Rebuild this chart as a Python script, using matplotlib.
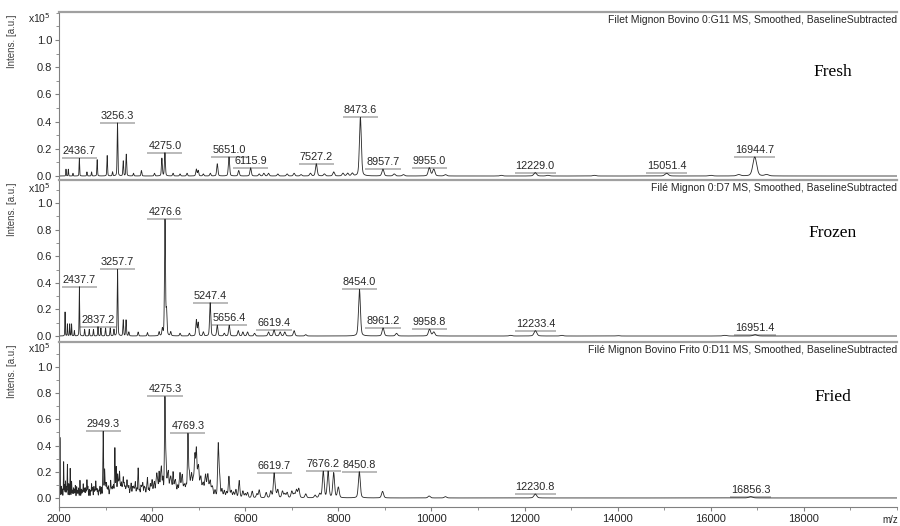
import numpy as np
import matplotlib
matplotlib.use("Agg")
import matplotlib.pyplot as plt
from matplotlib.ticker import MultipleLocator, FormatStrFormatter

plt.rcParams['font.family'] = ['Liberation Sans', 'DejaVu Sans']

# ---------------- data ----------------
panel_names = ["Fresh", "Frozen", "Fried"]
panel_titles = [
    "Filet Mignon Bovino 0:G11 MS, Smoothed, BaselineSubtracted",
    "Filé Mignon 0:D7 MS, Smoothed, BaselineSubtracted",
    "Filé Mignon Bovino Frito 0:D11 MS, Smoothed, BaselineSubtracted",
]

# labelled peaks: m/z and intensity (x10^5)
fresh_label_mz = [2436.7, 3256.3, 4275.0, 5651.0, 6115.9, 7527.2, 8473.6, 8957.7, 9955.0, 12229.0, 15051.4, 16944.7]
fresh_label_h = [0.13, 0.39, 0.17, 0.14, 0.06, 0.09, 0.43, 0.05, 0.06, 0.025, 0.02, 0.14]
fresh_other_mz = [2150, 2200, 2300, 2600, 2700, 2820, 3035, 3150, 3380, 3445, 3600, 3770, 4050, 4210,
                  4450, 4600, 4750, 4950, 4990, 5100, 5250, 5400, 5860, 6300, 6400, 6500, 6700, 6900,
                  7050, 7200, 7400, 7700, 7900, 8100, 8200, 8300, 9200, 9400, 10050, 10300, 11500,
                  12500, 13500, 16000, 16600, 17200]
fresh_other_h = [0.05, 0.05, 0.02, 0.03, 0.03, 0.12, 0.15, 0.03, 0.11, 0.16, 0.02, 0.04, 0.02, 0.13,
                 0.02, 0.015, 0.02, 0.05, 0.04, 0.015, 0.02, 0.09, 0.04, 0.015, 0.02, 0.02, 0.015, 0.015,
                 0.02, 0.01, 0.02, 0.015, 0.03, 0.02, 0.02, 0.02, 0.015, 0.01, 0.05, 0.01, 0.005,
                 0.005, 0.005, 0.005, 0.01, 0.01]

frozen_label_mz = [2437.7, 2837.2, 3257.7, 4276.6, 5247.4, 5656.4, 6619.4, 8454.0, 8961.2, 9958.8, 12233.4, 16951.4]
frozen_label_h = [0.37, 0.07, 0.50, 0.87, 0.25, 0.08, 0.045, 0.35, 0.06, 0.05, 0.04, 0.01]
frozen_other_mz = [2130, 2180, 2230, 2270, 2330, 2550, 2650, 2740, 2900, 3000, 3100, 3180, 3380, 3440,
                   3500, 3700, 3900, 4150, 4220, 4310, 4400, 4600, 4800, 4950, 4990, 5100, 5400, 5550,
                   5850, 5950, 6050, 6200, 6500, 6750, 6850, 7050, 7300, 9250, 10050, 11700, 12800,
                   14000, 16300]
frozen_other_h = [0.18, 0.09, 0.09, 0.09, 0.04, 0.05, 0.05, 0.05, 0.06, 0.06, 0.06, 0.05, 0.12, 0.12,
                  0.03, 0.03, 0.025, 0.03, 0.05, 0.18, 0.03, 0.02, 0.02, 0.12, 0.10, 0.03, 0.08, 0.02,
                  0.04, 0.03, 0.03, 0.02, 0.03, 0.03, 0.03, 0.04, 0.01, 0.02, 0.03, 0.005, 0.005,
                  0.003, 0.005]

fried_label_mz = [2949.3, 4275.3, 4769.3, 6619.7, 7676.2, 8450.8, 12230.8, 16856.3]
fried_label_h = [0.50, 0.74, 0.47, 0.18, 0.20, 0.20, 0.03, 0.01]
fried_other_mz = [2020, 2050, 2100, 2140, 2180, 2210, 2240, 2270, 2310, 2350, 2400, 2450, 2480, 2520,
                  2560, 2600, 2650, 2700, 2750, 2790, 2830, 2880, 2980, 3020, 3060, 3110, 3150, 3200,
                  3230, 3260, 3300, 3340, 3380, 3420, 3460, 3500, 3550, 3600, 3640, 3700, 3760, 3800,
                  3850, 3900, 3960, 4000, 4050, 4100, 4150, 4200, 4300, 4350, 4400, 4450, 4500, 4550,
                  4600, 4650, 4700, 4800, 4850, 4880, 4920, 4950, 5000, 5050, 5100, 5150, 5200, 5250,
                  5300, 5420, 5450, 5500, 5550, 5650, 5700, 5800, 5870, 5950, 6050, 6150, 6300, 6450,
                  6550, 6700, 6800, 6900, 7000, 7100, 7150, 7300, 7500, 7600, 7780, 7900, 8000, 8950,
                  9950, 10300,
                  2070, 2120, 2160, 2290, 2330, 2380, 2420, 2500, 2540, 2580, 2620, 2680, 2720, 2770,
                  2810, 2860, 2910, 3000, 3040, 3090, 3130, 3170, 3280, 3320, 3360, 3400, 3440, 3480,
                  3530, 3580, 3620, 3670, 3730, 3780, 3830, 3880, 3930, 3980, 4030, 4080, 4120, 4180,
                  4230, 4330, 4380, 4420, 4480, 4520, 4580, 4630, 4680, 4730, 4830, 4900, 4980, 5030,
                  5080, 5130, 5180, 5230, 5280, 5350, 5600, 5750, 6000, 6250, 6650, 6850, 7050]
fried_other_h = [0.46, 0.08, 0.27, 0.12, 0.25, 0.10, 0.22, 0.12, 0.07, 0.09, 0.05, 0.13, 0.06, 0.10,
                 0.07, 0.13, 0.06, 0.10, 0.08, 0.12, 0.06, 0.08, 0.20, 0.10, 0.08, 0.12, 0.07, 0.37,
                 0.22, 0.16, 0.18, 0.10, 0.14, 0.07, 0.12, 0.08, 0.10, 0.07, 0.11, 0.22, 0.08, 0.10,
                 0.06, 0.14, 0.09, 0.12, 0.10, 0.15, 0.18, 0.20, 0.22, 0.16, 0.12, 0.18, 0.10, 0.08,
                 0.16, 0.14, 0.07, 0.16, 0.14, 0.10, 0.28, 0.34, 0.18, 0.12, 0.08, 0.14, 0.14, 0.10,
                 0.06, 0.40, 0.15, 0.06, 0.05, 0.16, 0.05, 0.06, 0.13, 0.05, 0.04, 0.05, 0.06, 0.04,
                 0.05, 0.06, 0.05, 0.04, 0.05, 0.06, 0.07, 0.03, 0.02, 0.03, 0.20, 0.19, 0.08, 0.05,
                 0.015, 0.01,
                 0.06, 0.09, 0.07, 0.05, 0.06, 0.08, 0.07, 0.05, 0.06, 0.05, 0.08, 0.05, 0.07, 0.05,
                 0.06, 0.05, 0.07, 0.09, 0.06, 0.05, 0.06, 0.08, 0.10, 0.07, 0.06, 0.09, 0.05, 0.06,
                 0.05, 0.07, 0.05, 0.06, 0.05, 0.06, 0.07, 0.05, 0.06, 0.05, 0.07, 0.08, 0.10, 0.12,
                 0.13, 0.12, 0.09, 0.07, 0.08, 0.05, 0.07, 0.09, 0.06, 0.08, 0.09, 0.08, 0.14, 0.08,
                 0.06, 0.07, 0.08, 0.06, 0.05, 0.05, 0.04, 0.04, 0.03, 0.03, 0.04, 0.03, 0.03]

label_mz = [fresh_label_mz, frozen_label_mz, fried_label_mz]
label_h = [fresh_label_h, frozen_label_h, fried_label_h]
other_mz = [fresh_other_mz, frozen_other_mz, fried_other_mz]
other_h = [fresh_other_h, frozen_other_h, fried_other_h]

x_ticks = [2000, 4000, 6000, 8000, 10000, 12000, 14000, 16000, 18000]
y_ticks = [0.0, 0.2, 0.4, 0.6, 0.8, 1.0]

# ---------------- figure ----------------
W, H = 900, 526
fig = plt.figure(figsize=(9, 5.26), dpi=100)

# (top px, bottom px, ylim)
layout = [(12, 179, (-0.022, 1.206)),
          (180, 340, (-0.030, 1.173)),
          (342, 507, (-0.069, 1.191))]
left_px, right_px = 59, 897

mz = np.arange(2000.0, 20000.0, 1.0)


def spectrum(centers, heights):
    # peak shape: pseudo-Voigt (mostly Gaussian core, Lorentzian skirt)
    y = np.zeros_like(mz)
    for c, h in zip(centers, heights):
        s = c / 420.0
        w = c / 330.0
        d = mz - c
        y += h * (0.7 * np.exp(-0.5 * (d / s) ** 2) + 0.3 / (1.0 + (d / w) ** 2))
    return y


axes = []
labels_all = []
for i in range(3):
    top, bot, yl = layout[i]
    ax = fig.add_axes([left_px / W, 1 - bot / H, (right_px - left_px) / W, (bot - top) / H])
    axes.append(ax)
    centers = list(label_mz[i]) + list(other_mz[i])
    heights = list(label_h[i]) + list(other_h[i])
    y = spectrum(centers, heights)
    ax.plot(mz, y, color='#262626', lw=0.6)
    ax.set_xlim(2000, 20000)
    ax.set_ylim(*yl)

    ax.spines['right'].set_visible(False)
    ax.spines['top'].set_color('#a0a0a0')
    ax.spines['top'].set_linewidth(1.6)
    ax.spines['left'].set_color('#808080')
    ax.spines['left'].set_linewidth(0.8)
    if i < 2:
        ax.spines['bottom'].set_visible(False)
        ax.tick_params(axis='x', which='both', bottom=False, labelbottom=False)
    else:
        ax.spines['bottom'].set_color('#808080')
        ax.spines['bottom'].set_linewidth(0.8)
        ax.set_xticks(x_ticks)
        ax.xaxis.set_minor_locator(MultipleLocator(1000))
        ax.tick_params(axis='x', which='major', labelsize=8, colors='#808080',
                       labelcolor='#262626', length=3, direction='out', pad=2)
        ax.tick_params(axis='x', which='minor', colors='#808080', length=2, direction='out')

    ax.set_yticks(y_ticks)
    ax.yaxis.set_major_formatter(FormatStrFormatter('%.1f'))
    ax.yaxis.set_minor_locator(MultipleLocator(0.1))
    ax.tick_params(axis='y', which='major', labelsize=8, colors='#808080',
                   labelcolor='#262626', length=3, direction='out', pad=2)
    ax.tick_params(axis='y', which='minor', colors='#808080', length=2, direction='out')

    # panel title at top right
    ax.text(1.0, 1 - 8 / (bot - top), panel_titles[i], transform=ax.transAxes,
            ha='right', va='center', fontsize=7.5, color='#262626')
    # sample name
    name_y = [72, 233, 397][i]
    ax.text((833 - left_px) / (right_px - left_px), (bot - name_y) / (bot - top), panel_names[i],
            transform=ax.transAxes, ha='center', va='center', fontsize=12.5,
            family=['Liberation Serif', 'DejaVu Serif'], color='black')
    # x10^5
    xoff = [6, 8, 6][i]
    ax.text(-0.010, 1 - xoff / (bot - top), r'x10$^5$', transform=ax.transAxes,
            ha='right', va='center', fontsize=7.5, color='#262626')
    # y label
    ax.text((12 - left_px) / (right_px - left_px), 1 - 3 / (bot - top), 'Intens. [a.u.]',
            transform=ax.transAxes, rotation=90, ha='center', va='top', fontsize=7,
            color='#404040')

    # peak labels
    for c in label_mz[i]:
        sel = (mz > c - 20) & (mz < c + 20)
        ytop = y[sel].max()
        t = ax.annotate(f"{c:.1f}", xy=(c, ytop), xytext=(0, 1.5), textcoords='offset points',
                        ha='center', va='bottom', fontsize=7.8, color='#262626')
        labels_all.append((ax, t, ytop))

fig.text(890 / W, 1 - 515 / H, 'm/z', ha='center', va='top', fontsize=7, color='#262626')

fig.canvas.draw()
renderer = fig.canvas.get_renderer()
for ax, t, ytop in labels_all:
    bb = t.get_window_extent(renderer)
    inv = ax.transData.inverted()
    x0 = inv.transform((bb.x0 - 1, bb.y0))[0]
    x1 = inv.transform((bb.x1 + 1, bb.y0))[0]
    ax.plot([x0, x1], [ytop, ytop], color='#b4b4b4', lw=1.3, zorder=1, solid_capstyle='butt')

fig.savefig('out.png', dpi=100)
